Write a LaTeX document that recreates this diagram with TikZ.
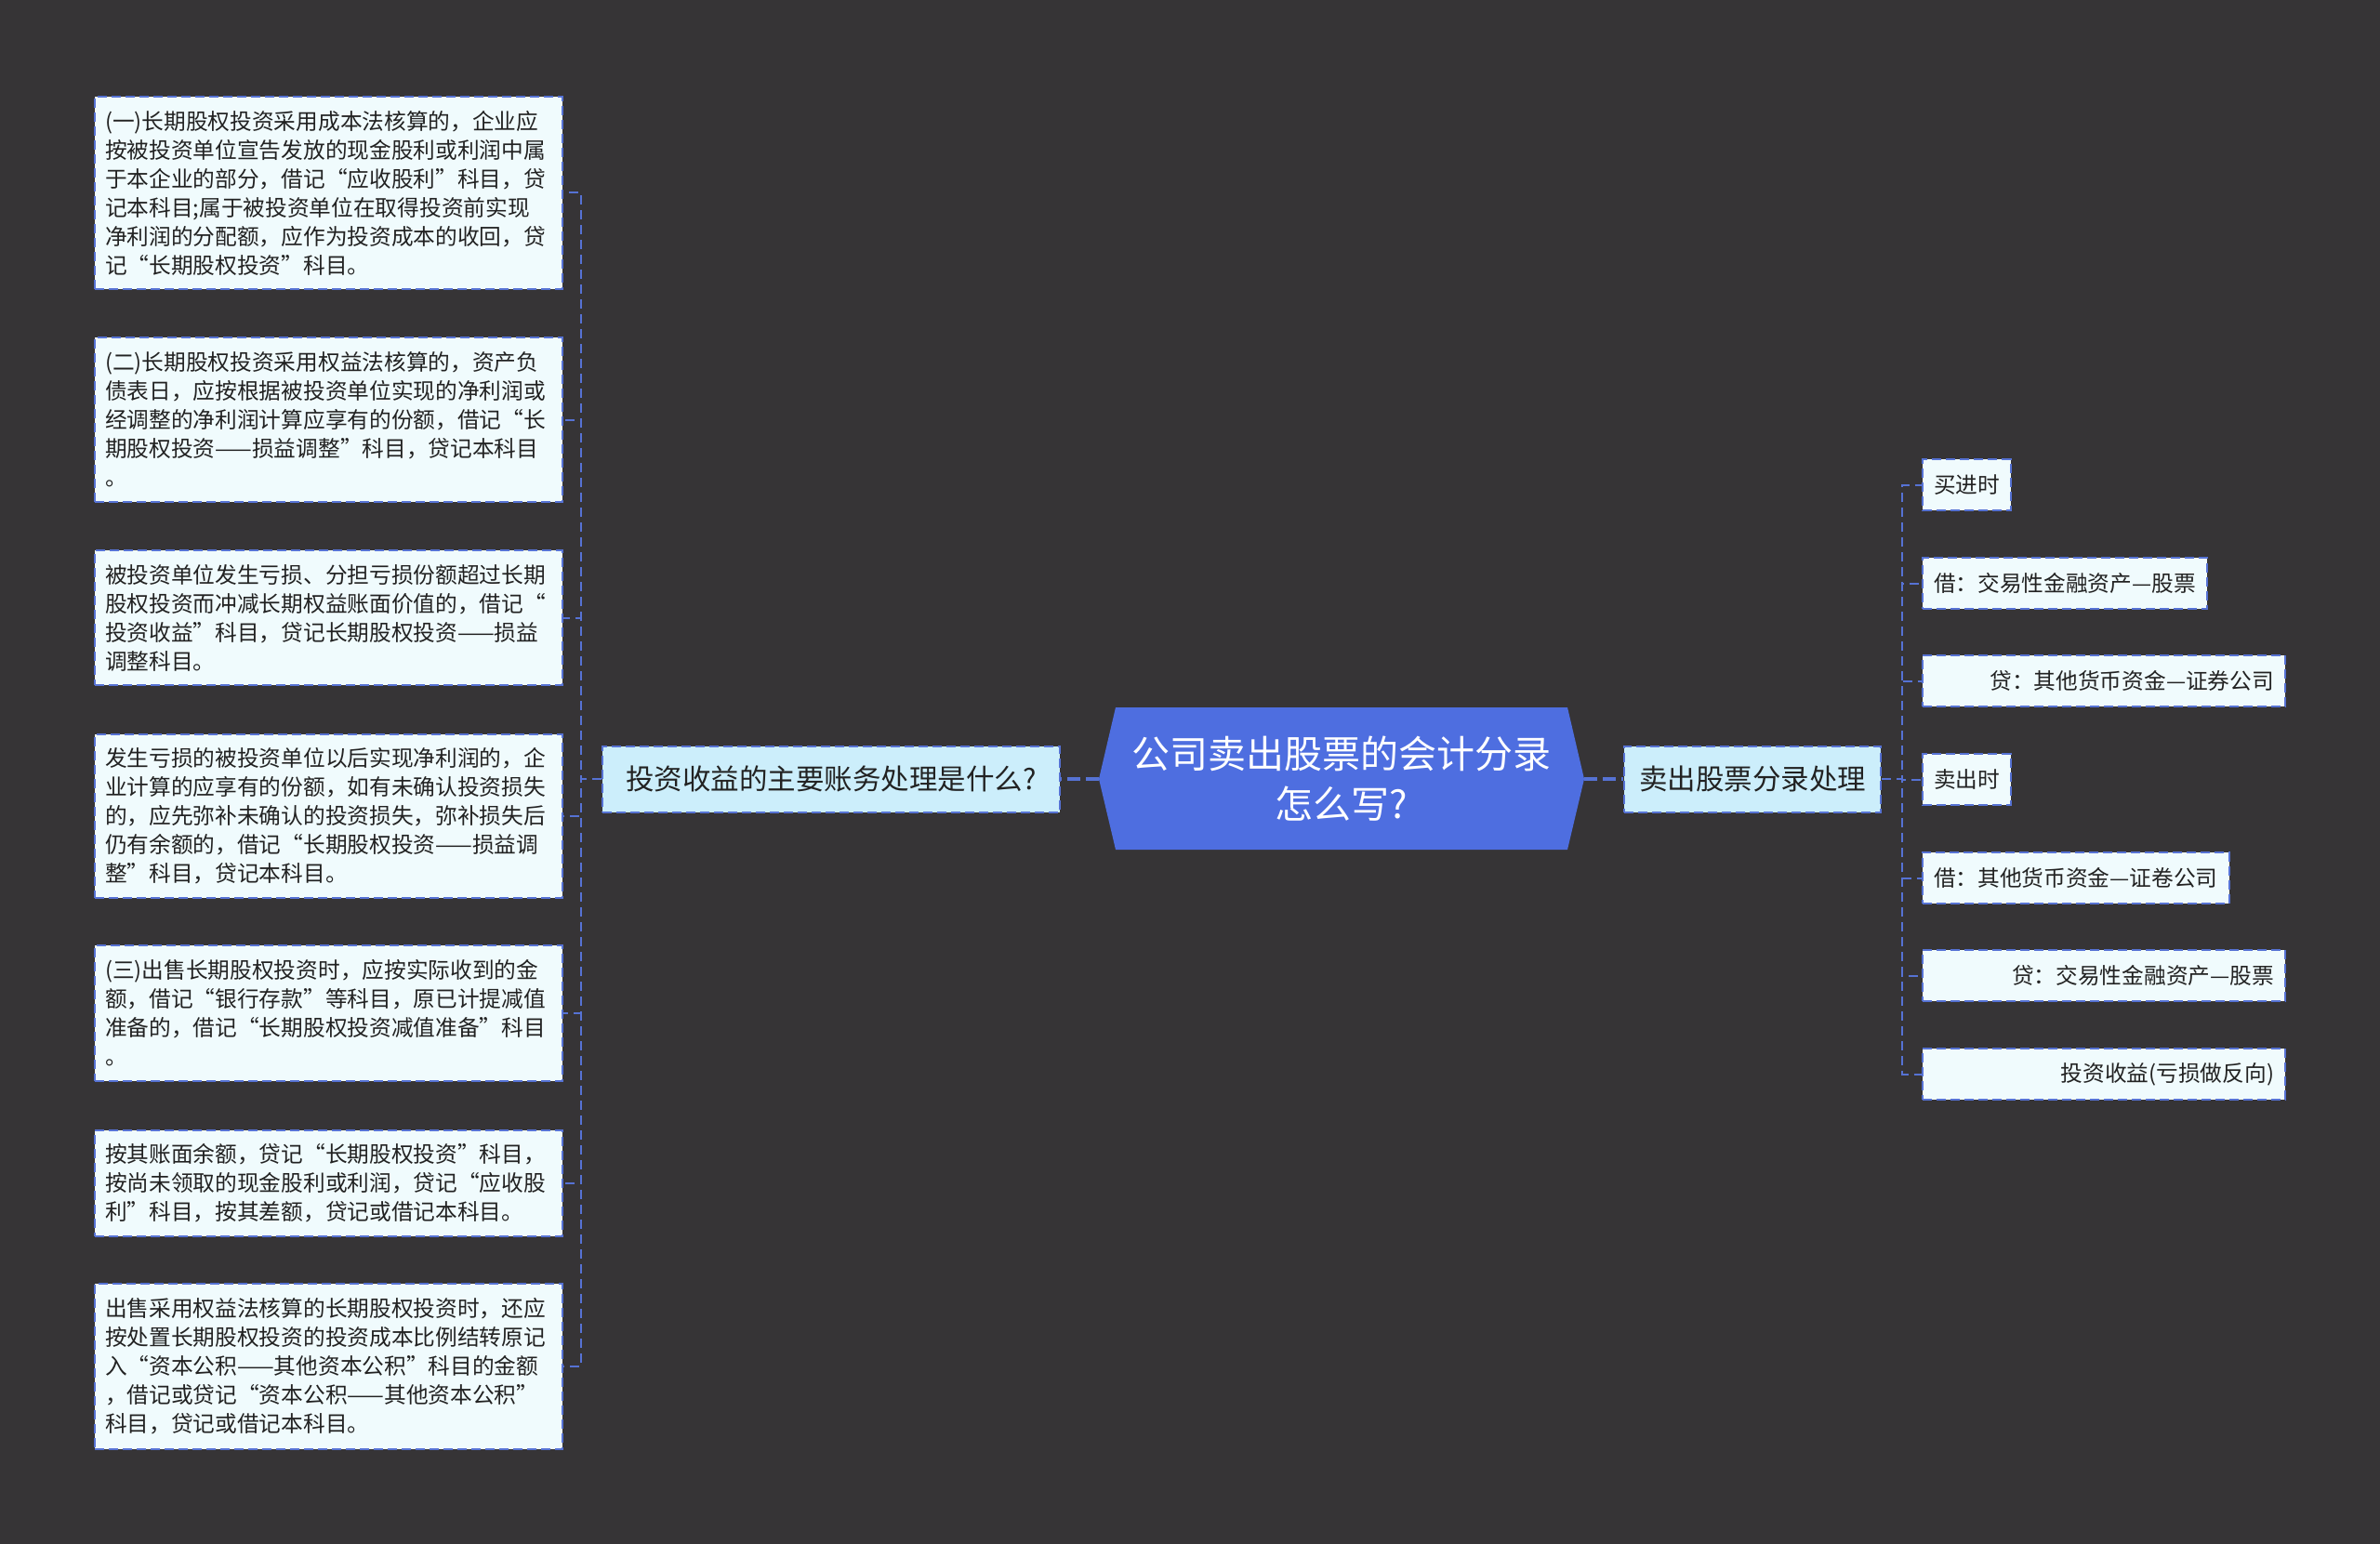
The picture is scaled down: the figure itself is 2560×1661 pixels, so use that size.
\documentclass[tikz,border=0pt]{standalone}
\usepackage{fontspec}
\setmainfont{Noto Sans CJK SC}
\usetikzlibrary{calc}
\definecolor{bgc}{RGB}{54,52,54}
\definecolor{lineblue}{RGB}{86,114,212}
\definecolor{rootblue}{RGB}{78,110,224}
\definecolor{lonefill}{RGB}{204,238,251}
\definecolor{leaffill}{RGB}{240,251,253}
\definecolor{textdark}{RGB}{34,34,34}
\begin{document}
\begin{tikzpicture}[x=1pt,y=-1pt,
  conn/.style={draw=lineblue,line width=2pt,dash pattern=on 10pt off 6pt},
  rootconn/.style={draw=lineblue,line width=3.5pt,dash pattern=on 14pt off 6pt},
  boxbase/.style={draw=lineblue,line width=2pt,dash pattern=on 10pt off 5pt,text=textdark},
  leftleaf/.style={boxbase,fill=leaffill,anchor=north west,font=\fontsize{23.7}{31}\selectfont,
    text width=481pt,align=left,inner xsep=11pt,inner ysep=0pt},
  rightleaf/.style={boxbase,fill=leaffill,anchor=north west,font=\fontsize{23.7}{31}\selectfont,
    inner xsep=12pt,inner ysep=0pt,minimum height=55pt},
  rightwide/.style={rightleaf,text width=366pt,align=right},
  levelone/.style={boxbase,fill=lonefill,font=\fontsize{30.5}{36}\selectfont,
    inner xsep=10pt,inner ysep=0pt,minimum height=71pt},
  roottext/.style={text=white,font=\fontsize{41}{54}\selectfont,align=center,
    minimum width=522pt,minimum height=153pt,inner sep=0pt}]
\fill[bgc] (0,0) rectangle (2560,1661);
\useasboundingbox (0,0) rectangle (2560,1661);

% root shape
\fill[rootblue] (1200,761) -- (1686,761) -- (1704,838) -- (1686,914) -- (1200,914) -- (1182,838) -- cycle;
\node[roottext] (root) at (1443,838) {公司卖出股票的会计分录\\怎么写?};

% level one
\node[levelone,minimum width=492pt] (l1L) at (894,838) {投资收益的主要账务处理是什么?};
\node[levelone,minimum width=276pt] (l1R) at (1885,838) {卖出股票分录处理};

% left leaves
\node[leftleaf,minimum height=207pt] (b1) at (101,103) {(一)长期股权投资采用成本法核算的，企业应\\按被投资单位宣告发放的现金股利或利润中属\\于本企业的部分，借记“应收股利”科目，贷\\记本科目;属于被投资单位在取得投资前实现\\净利润的分配额，应作为投资成本的收回，贷\\记“长期股权投资”科目。};
\node[leftleaf,minimum height=177pt] (b2) at (101,362) {(二)长期股权投资采用权益法核算的，资产负\\债表日，应按根据被投资单位实现的净利润或\\经调整的净利润计算应享有的份额，借记“长\\期股权投资——损益调整”科目，贷记本科目\\。};
\node[leftleaf,minimum height=145pt] (b3) at (101,591) {被投资单位发生亏损、分担亏损份额超过长期\\股权投资而冲减长期权益账面价值的，借记“\\投资收益”科目，贷记长期股权投资——损益\\调整科目。};
\node[leftleaf,minimum height=176pt] (b4) at (101,789) {发生亏损的被投资单位以后实现净利润的，企\\业计算的应享有的份额，如有未确认投资损失\\的，应先弥补未确认的投资损失，弥补损失后\\仍有余额的，借记“长期股权投资——损益调\\整”科目，贷记本科目。};
\node[leftleaf,minimum height=146pt] (b5) at (101,1016) {(三)出售长期股权投资时，应按实际收到的金\\额，借记“银行存款”等科目，原已计提减值\\准备的，借记“长期股权投资减值准备”科目\\。};
\node[leftleaf,minimum height=114pt] (b6) at (101,1215) {按其账面余额，贷记“长期股权投资”科目，\\按尚未领取的现金股利或利润，贷记“应收股\\利”科目，按其差额，贷记或借记本科目。};
\node[leftleaf,minimum height=178pt] (b7) at (101,1380) {出售采用权益法核算的长期股权投资时，还应\\按处置长期股权投资的投资成本比例结转原记\\入“资本公积——其他资本公积”科目的金额\\，借记或贷记“资本公积——其他资本公积”\\科目，贷记或借记本科目。};

% right leaves
\node[rightleaf] (r1) at (2067,493) {买进时};
\node[rightleaf] (r2) at (2067,599) {借：交易性金融资产—股票};
\node[rightwide] (r3) at (2067,704) {贷：其他货币资金—证券公司};
\node[rightleaf] (r4) at (2067,810) {卖出时};
\node[rightleaf] (r5) at (2067,916) {借：其他货币资金—证卷公司};
\node[rightwide] (r6) at (2067,1021) {贷：交易性金融资产—股票};
\node[rightwide] (r7) at (2067,1127) {投资收益(亏损做反向)};

% spines
\coordinate (ls) at (625,838);
\coordinate (rs) at (2046,838);

% connectors
\draw[rootconn] (root.west) -- (l1L.east);
\draw[rootconn] (root.east) -- (l1R.west);
\foreach \n in {b1,b2,b3,b4,b5,b6,b7}{
  \draw[conn] (l1L.west) -- (ls) |- (\n.east);
}
\foreach \n in {r1,r2,r3,r4,r5,r6,r7}{
  \draw[conn] (l1R.east) -- (rs) |- (\n.west);
}
\end{tikzpicture}
\end{document}
